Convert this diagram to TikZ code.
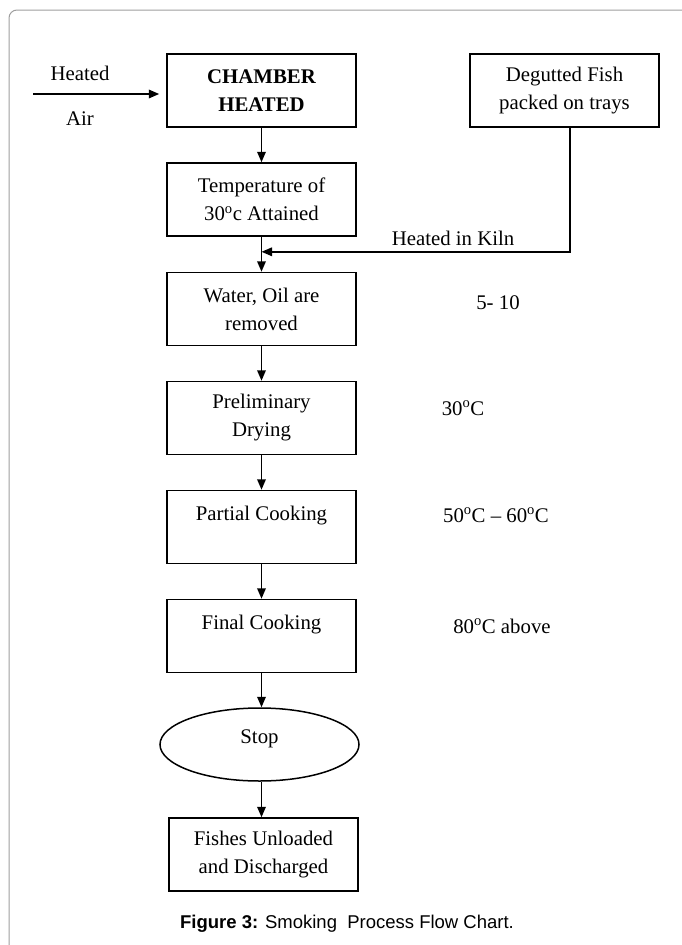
\documentclass[tikz,border=0pt]{standalone}
\usepackage{fontspec}
\setmainfont{Liberation Serif}
\newfontfamily\capfont{Liberation Sans}
\usetikzlibrary{arrows.meta,shapes.geometric,calc}
\newcommand{\dg}{\textsuperscript{o}}
\begin{document}
\begin{tikzpicture}[x=1pt,y=-1pt,
  txt/.style={font=\fontsize{20.8}{28}\selectfont, inner sep=0pt, align=center},
  stepbox/.style={txt, draw, line width=1.5pt, minimum width=189pt, minimum height=73pt},
  arr/.style={line width=1.8pt, -{Triangle[length=10.5pt,width=8.5pt]}},
  frame/.style={draw=black!38, line width=1pt, rounded corners=8pt}]
\useasboundingbox (0,0) rectangle (681,945);
\draw[frame] (9,950) -- (9,10) -- (690,10);
% nodes
\node[stepbox, font=\fontsize{20.8}{28}\selectfont\bfseries] (chamber) at (261.5,90.5) {CHAMBER\\HEATED};
\node[stepbox] (deg) at (564.5,90.5) {Degutted Fish\\packed on trays};
\node[stepbox] (temp) at (261.5,199.5) {Temperature of\\30\dg c Attained};
\node[stepbox] (water) at (261.5,309) {Water, Oil are\\removed};
\node[stepbox] (prelim) at (261.5,418) {Preliminary\\Drying};
\node[stepbox] (partial) at (261.5,527) {Partial Cooking\\\mbox{}};
\node[stepbox] (final) at (261.5,636) {Final Cooking\\\mbox{}};
\node[txt, draw, line width=1.5pt, ellipse, minimum width=199pt, minimum height=73pt] (stop) at (259.5,744.5) {};
\node[txt, yshift=6pt] (stoplbl) at (stop.center) {Stop};
\node[stepbox] (fishes) at (263.5,854.5) {Fishes Unloaded\\and Discharged};
% side texts
\node[txt] (heated) at (80,73) {Heated};
\node[txt] (air) at (80,119) {Air};
\node[txt] (kiln) at (453,238) {Heated in Kiln};
\node[txt] (t1) at (498,303) {5- 10};
\node[txt] (t2) at (463,408) {30\dg C};
\node[txt] (t3) at (496,515) {50\dg C -- 60\dg C};
\node[txt] (t4) at (502,626) {80\dg C above};
\node[inner sep=0pt, anchor=base, font=\capfont\fontsize{18.5}{22}\selectfont] (cap) at (347,928) {\textbf{Figure 3:} Smoking\ \ Process Flow Chart.};
% connectors
\coordinate (hs) at (33,94);
\coordinate (kj) at ($(temp.south)!0.43!(water.north)$);
\draw[arr] (hs) -- ([xshift=-7pt,yshift=-3.5pt]chamber.west);
\draw[arr] (chamber) -- (temp);
\draw[line width=1.8pt] (temp.south) -- (kj);
\draw[arr] (kj) -- (water.north);
\draw[arr] ([xshift=5.5pt]deg.south) |- (kj);
\draw[arr] (water) -- (prelim);
\draw[arr] (prelim) -- (partial);
\draw[arr] (partial) -- (final);
\draw[arr] (final.south) -- (final.south |- stop.north);
\draw[arr] (stop.south -| final.south) -- (final.south |- fishes.north);
\end{tikzpicture}
\end{document}
